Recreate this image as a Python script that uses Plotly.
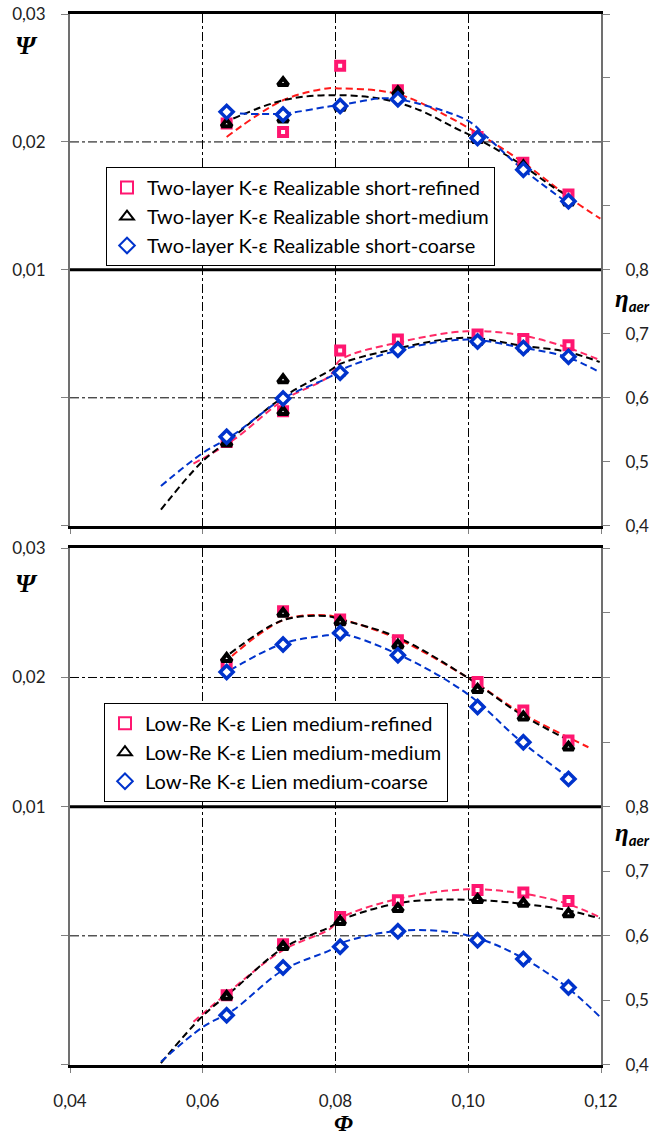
import plotly.graph_objects as go

# ---------------- data ----------------
phi = [0.0636, 0.0721, 0.0807, 0.0894, 0.1014, 0.1083, 0.1151]
phi_med = [0.0636, 0.0721, 0.0721, 0.0807, 0.0894, 0.1014, 0.1083, 0.1151]

# top panel (Two-layer K-eps Realizable short)
psi_top_ref = [0.02144, 0.02078, 0.02595, 0.02404, 0.02039, 0.01838, 0.01590]
psi_top_med = [0.02140, 0.02462, 0.02177, 0.02269, 0.02391, 0.02018, 0.01811, 0.01529]
psi_top_crs = [0.02235, 0.02214, 0.02281, 0.02334, 0.02030, 0.01783, 0.01537]
eta_top_ref = [0.531, 0.579, 0.674, 0.691, 0.699, 0.692, 0.682]
eta_top_med = [0.529, 0.628, 0.578, 0.640, 0.678, 0.688, 0.678, 0.665]
eta_top_crs = [0.539, 0.599, 0.639, 0.675, 0.688, 0.678, 0.664]

# bottom panel (Low-Re K-eps Lien medium)
psi_bot_ref = [0.02100, 0.02513, 0.02449, 0.02288, 0.01965, 0.01745, 0.01512]
psi_bot_med = [0.02146, 0.02496, 0.02430, 0.02250, 0.01906, 0.01693, 0.01460]
psi_bot_crs = [0.02042, 0.02255, 0.02345, 0.02172, 0.01771, 0.01499, 0.01215]
eta_bot_ref = [0.508, 0.587, 0.629, 0.655, 0.671, 0.667, 0.654]
eta_bot_med = [0.506, 0.583, 0.622, 0.642, 0.656, 0.650, 0.634]
eta_bot_crs = [0.477, 0.551, 0.583, 0.607, 0.593, 0.564, 0.520]

# trendlines
tl_psi_top_ref_x = [0.0636, 0.0721, 0.0787, 0.0807, 0.0867, 0.0907, 0.0998, 0.1078, 0.1158, 0.1199]
tl_psi_top_ref_y = [0.02039, 0.02326, 0.02418, 0.02418, 0.02400, 0.02352, 0.02117, 0.01856, 0.01543, 0.01400]
tl_psi_top_med_x = [0.0646, 0.0721, 0.0787, 0.0867, 0.0927, 0.0977, 0.1018, 0.1078, 0.1128, 0.1153]
tl_psi_top_med_y = [0.02183, 0.02326, 0.02365, 0.02339, 0.02248, 0.02117, 0.02013, 0.01830, 0.01647, 0.01569]
tl_psi_top_crs_x = [0.0656, 0.0721, 0.0787, 0.0807, 0.0867, 0.0897, 0.0998, 0.1028, 0.1078, 0.1148]
tl_psi_top_crs_y = [0.02222, 0.02222, 0.02274, 0.02287, 0.02340, 0.02332, 0.02170, 0.02039, 0.01804, 0.01529]

tl_eta_top_ref_x = [0.0586, 0.0646, 0.0721, 0.0792, 0.0807, 0.0897, 0.0998, 0.1078, 0.1148, 0.1198]
tl_eta_top_ref_y = [0.497, 0.534, 0.596, 0.635, 0.659, 0.687, 0.704, 0.698, 0.679, 0.659]
tl_eta_top_med_x = [0.0537, 0.0599, 0.0646, 0.0721, 0.0792, 0.0807, 0.0897, 0.0998, 0.1078, 0.1148, 0.1198]
tl_eta_top_med_y = [0.425, 0.500, 0.539, 0.601, 0.643, 0.653, 0.678, 0.694, 0.682, 0.672, 0.656]
tl_eta_top_crs_x = [0.0537, 0.0599, 0.0646, 0.0721, 0.0792, 0.0807, 0.0897, 0.0998, 0.1078, 0.1148, 0.1198]
tl_eta_top_crs_y = [0.462, 0.513, 0.542, 0.599, 0.633, 0.643, 0.675, 0.691, 0.679, 0.664, 0.640]

tl_psi_bot_ref_x = [0.0631, 0.0721, 0.0787, 0.0807, 0.0892, 0.0998, 0.1078, 0.1181]
tl_psi_bot_ref_y = [0.02107, 0.02444, 0.02482, 0.02457, 0.02302, 0.02003, 0.01732, 0.01460]
tl_psi_bot_med_x = [0.0641, 0.0721, 0.0787, 0.0807, 0.0892, 0.0998, 0.1078, 0.1152]
tl_psi_bot_med_y = [0.02185, 0.02444, 0.02475, 0.02450, 0.02314, 0.02003, 0.01719, 0.01512]
tl_psi_bot_crs_x = [0.0641, 0.0721, 0.0787, 0.0807, 0.0892, 0.0998, 0.1078, 0.1154]
tl_psi_bot_crs_y = [0.02056, 0.02263, 0.02327, 0.02340, 0.02185, 0.01875, 0.01512, 0.01215]

tl_eta_bot_ref_x = [0.0586, 0.0646, 0.0721, 0.0792, 0.0807, 0.0897, 0.0998, 0.1078, 0.1148, 0.1198]
tl_eta_bot_ref_y = [0.467, 0.519, 0.578, 0.611, 0.627, 0.658, 0.672, 0.666, 0.650, 0.629]
tl_eta_bot_med_x = [0.0537, 0.0599, 0.0646, 0.0721, 0.0792, 0.0807, 0.0897, 0.0998, 0.1078, 0.1148, 0.1198]
tl_eta_bot_med_y = [0.403, 0.475, 0.516, 0.581, 0.614, 0.624, 0.651, 0.656, 0.650, 0.640, 0.627]
tl_eta_bot_crs_x = [0.0537, 0.0599, 0.0646, 0.0721, 0.0792, 0.0807, 0.0897, 0.0998, 0.1078, 0.1148, 0.1198]
tl_eta_bot_crs_y = [0.405, 0.458, 0.485, 0.547, 0.578, 0.588, 0.608, 0.601, 0.568, 0.521, 0.475]

names_top = ["Two-layer K-ε Realizable short-refined",
             "Two-layer K-ε Realizable short-medium",
             "Two-layer K-ε Realizable short-coarse"]
names_bot = ["Low-Re K-ε Lien medium-refined",
             "Low-Re K-ε Lien medium-medium",
             "Low-Re K-ε Lien medium-coarse"]

x_ticks = [0.04, 0.06, 0.08, 0.10, 0.12]
x_ticktext = ["0,04", "0,06", "0,08", "0,10", "0,12"]
psi_ticks = [-0.01, 0.0, 0.01, 0.02, 0.03]
psi_ticktext = [" ", " ", "0,01", "0,02", "0,03"]
eta_ticks = [0.4, 0.5, 0.6, 0.7, 0.8, 0.9, 1.0, 1.1, 1.2]
eta_ticktext = ["0,4", "0,5", "0,6", "0,7", "0,8", " ", " ", " ", " "]

# ---------------- styles ----------------
PINK = "#FF1670"
RED = "#FF1A1A"
PINKLINE = "#FF2A66"
BLACK = "#000000"
BLUE = "#0033CC"
DASH = "7px,4px"
FONT = "Lato"

fig = go.Figure()

def line(x, y, color, xa, ya):
    fig.add_trace(go.Scatter(x=x, y=y, mode="lines", xaxis=xa, yaxis=ya,
                             line=dict(color=color, width=2, dash=DASH, shape="spline", smoothing=1.0),
                             showlegend=False, hoverinfo="skip"))

def marks(x, y, sym, color, size, lw, xa, ya, name=None, legend="legend"):
    fig.add_trace(go.Scatter(x=x, y=y, mode="markers", xaxis=xa, yaxis=ya,
                             marker=dict(symbol=sym, size=size, color="white",
                                         line=dict(color=color, width=lw)),
                             name=name if name else "", showlegend=bool(name), legend=legend))

SQ = ("square", PINK, 8, 4)
TR = ("triangle-up", BLACK, 9, 4)
DI = ("diamond", BLUE, 10, 3.5)

# top panel trendlines
line(tl_psi_top_ref_x, tl_psi_top_ref_y, RED, "x", "y")
line(tl_psi_top_med_x, tl_psi_top_med_y, BLACK, "x", "y")
line(tl_psi_top_crs_x, tl_psi_top_crs_y, BLUE, "x", "y")
line(tl_eta_top_ref_x, tl_eta_top_ref_y, PINKLINE, "x", "y2")
line(tl_eta_top_med_x, tl_eta_top_med_y, BLACK, "x", "y2")
line(tl_eta_top_crs_x, tl_eta_top_crs_y, BLUE, "x", "y2")
# bottom panel trendlines
line(tl_psi_bot_ref_x, tl_psi_bot_ref_y, RED, "x2", "y3")
line(tl_psi_bot_med_x, tl_psi_bot_med_y, BLACK, "x2", "y3")
line(tl_psi_bot_crs_x, tl_psi_bot_crs_y, BLUE, "x2", "y3")
line(tl_eta_bot_ref_x, tl_eta_bot_ref_y, PINKLINE, "x2", "y4")
line(tl_eta_bot_med_x, tl_eta_bot_med_y, BLACK, "x2", "y4")
line(tl_eta_bot_crs_x, tl_eta_bot_crs_y, BLUE, "x2", "y4")

# top markers
marks(phi, psi_top_ref, *SQ, "x", "y", names_top[0], "legend")
marks(phi_med, psi_top_med, *TR, "x", "y", names_top[1], "legend")
marks(phi, psi_top_crs, *DI, "x", "y", names_top[2], "legend")
marks(phi, eta_top_ref, *SQ, "x", "y2")
marks(phi_med, eta_top_med, *TR, "x", "y2")
marks(phi, eta_top_crs, *DI, "x", "y2")
# bottom markers
marks(phi, psi_bot_ref, *SQ, "x2", "y3", names_bot[0], "legend2")
marks(phi, psi_bot_med, *TR, "x2", "y3", names_bot[1], "legend2")
marks(phi, psi_bot_crs, *DI, "x2", "y3", names_bot[2], "legend2")
marks(phi, eta_bot_ref, *SQ, "x2", "y4")
marks(phi, eta_bot_med, *TR, "x2", "y4")
marks(phi, eta_bot_crs, *DI, "x2", "y4")

tickfont = dict(family=FONT, size=17, color="#222222")

xcommon = dict(range=[0.04, 0.12], tickmode="array", tickvals=x_ticks, ticktext=x_ticktext,
               showgrid=True, gridcolor="black", gridwidth=1, griddash="dashdot",
               ticks="outside", ticklen=5, tickcolor="#808080",
               showline=True, linecolor="black", linewidth=3, mirror=True,
               zeroline=False, tickfont=tickfont, fixedrange=True, automargin=False)
ycommon = dict(tickmode="array", tickvals=psi_ticks, ticktext=psi_ticktext, range=[-0.01, 0.03],
               showgrid=False, zeroline=False, ticks="outside", ticklen=7, tickcolor="#808080",
               showline=True, linecolor="#707070", linewidth=2, tickfont=tickfont,
               ticklabelstandoff=12, automargin=False)
ecommon = dict(tickmode="array", tickvals=eta_ticks, ticktext=eta_ticktext, range=[0.4, 1.2],
               showgrid=False, zeroline=False, ticks="outside", ticklen=7, tickcolor="#808080",
               showline=True, linecolor="#707070", linewidth=2, tickfont=tickfont, side="right",
               ticklabelstandoff=12, automargin=False)

TOP_DOM = [0.5131, 1.0]
BOT_DOM = [0.0, 0.4916]

legfont = dict(family=FONT, size=20, color="black")
fig.update_layout(
    width=654, height=1136,
    margin=dict(l=70, r=53, t=14, b=71, autoexpand=False),
    paper_bgcolor="white", plot_bgcolor="white",
    xaxis=dict(xcommon, domain=[0, 1], anchor="y", showticklabels=False),
    xaxis2=dict(xcommon, domain=[0, 1], anchor="y3", ticklabelstandoff=14),
    yaxis=dict(ycommon, domain=TOP_DOM, anchor="x"),
    yaxis2=dict(ecommon, overlaying="y", anchor="x"),
    yaxis3=dict(ycommon, domain=BOT_DOM, anchor="x2"),
    yaxis4=dict(ecommon, overlaying="y3", anchor="x2"),
    legend=dict(x=0.0678, y=0.8544, xanchor="left", yanchor="top", bgcolor="white",
                bordercolor="black", borderwidth=1, font=legfont, itemwidth=30,
                tracegroupgap=0, itemsizing="constant"),
    legend2=dict(x=0.064, y=0.3447, xanchor="left", yanchor="top", bgcolor="white",
                 bordercolor="black", borderwidth=1, font=legfont, itemwidth=30,
                 tracegroupgap=0, itemsizing="constant"),
    showlegend=True,
)

shapes = []
# thick separator between Psi and eta halves
for yref in ("y", "y3"):
    shapes.append(dict(type="line", xref="paper", x0=0, x1=1, yref=yref, y0=0.01, y1=0.01,
                       line=dict(color="black", width=3), layer="above"))
# horizontal dash-dot gridlines
for yref, v in (("y", 0.02), ("y2", 0.6), ("y3", 0.02), ("y4", 0.6)):
    shapes.append(dict(type="line", xref="paper", x0=0, x1=1, yref=yref, y0=v, y1=v,
                       line=dict(color="black", width=1, dash="dashdot"), layer="below"))
fig.update_layout(shapes=shapes)

ann = []
psi_lbl = "<b><i>Ψ</i></b>"
for yv in (0.9705, 0.4586):
    ann.append(dict(text=psi_lbl, xref="paper", yref="paper", x=-0.057, y=yv, showarrow=False,
                    xanchor="right", yanchor="middle",
                    font=dict(family="Liberation Serif", size=26, color="black")))
eta_lbl = ("<b><i>η</i></b><sub><span style='font-family:Lato;font-size:15px'>"
           "<b><i>aer</i></b></span></sub>")
for yv in (0.728, 0.220):
    ann.append(dict(text=eta_lbl, xref="paper", yref="paper", x=1.022, y=yv, showarrow=False,
                    xanchor="left", yanchor="middle",
                    font=dict(family="Liberation Serif", size=25, color="black")))
ann.append(dict(text="<b><i>Φ</i></b>", xref="paper", yref="paper", x=0.516, y=-0.055,
                showarrow=False, xanchor="center", yanchor="middle",
                font=dict(family="Liberation Serif", size=24, color="black")))
fig.update_layout(annotations=ann)

fig.write_html("out.html")
